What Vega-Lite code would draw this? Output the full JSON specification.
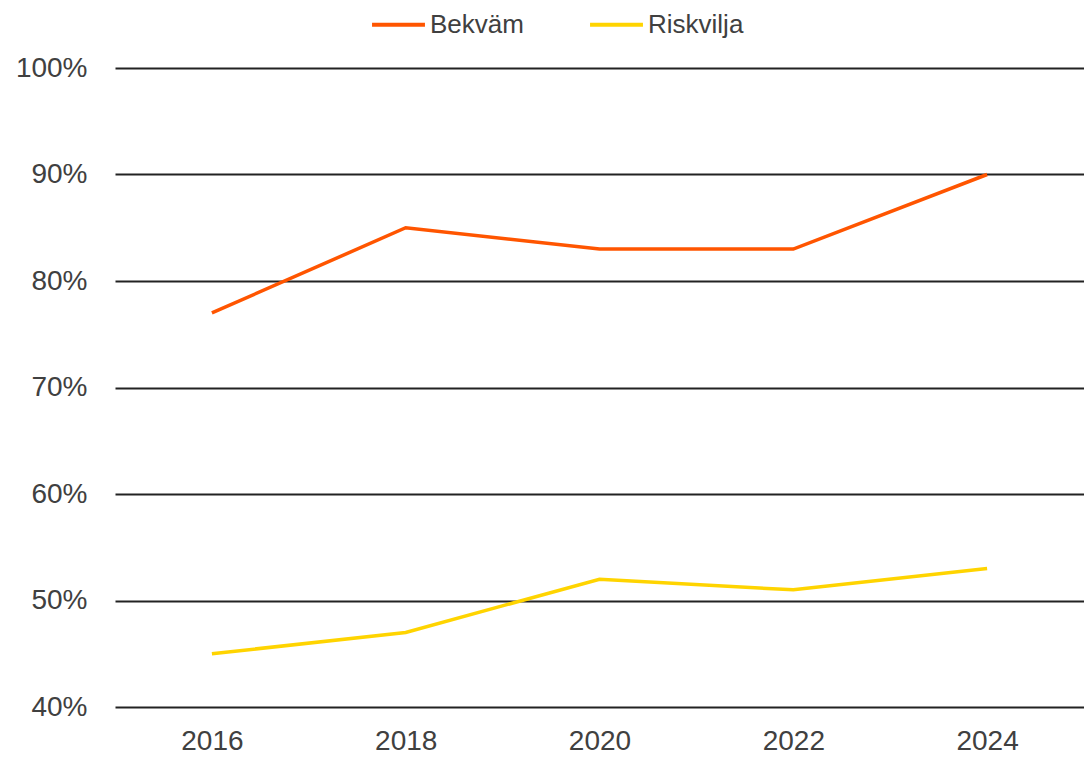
{
  "$schema": "https://vega.github.io/schema/vega-lite/v6.json",
  "width": 969,
  "height": 639,
  "autosize": {"type": "none"},
  "padding": {"left": 115, "top": 68, "right": 0, "bottom": 50},
  "background": "white",
  "config": {
    "view": {"stroke": null},
    "font": "Liberation Sans",
    "axis": {"labelFont": "Liberation Sans", "labelColor": "#404040"}
  },
  "data": {
    "values": [
      {"year": "2016", "series": "Bekväm", "value": 0.77},
      {"year": "2018", "series": "Bekväm", "value": 0.85},
      {"year": "2020", "series": "Bekväm", "value": 0.83},
      {"year": "2022", "series": "Bekväm", "value": 0.83},
      {"year": "2024", "series": "Bekväm", "value": 0.90},
      {"year": "2016", "series": "Riskvilja", "value": 0.45},
      {"year": "2018", "series": "Riskvilja", "value": 0.47},
      {"year": "2020", "series": "Riskvilja", "value": 0.52},
      {"year": "2022", "series": "Riskvilja", "value": 0.51},
      {"year": "2024", "series": "Riskvilja", "value": 0.53}
    ]
  },
  "mark": {"type": "line", "strokeWidth": 3.5},
  "encoding": {
    "x": {
      "field": "year",
      "type": "ordinal",
      "scale": {"type": "point", "padding": 0.5},
      "axis": {
        "title": null,
        "labelAngle": 0,
        "domain": false,
        "ticks": false,
        "grid": false,
        "labelFontSize": 28,
        "labelPadding": 20
      }
    },
    "y": {
      "field": "value",
      "type": "quantitative",
      "scale": {"domain": [0.4, 1.0], "nice": false, "zero": false},
      "axis": {
        "title": null,
        "format": ".0%",
        "values": [0.4, 0.5, 0.6, 0.7, 0.8, 0.9, 1.0],
        "domain": false,
        "ticks": false,
        "grid": true,
        "gridColor": "#222222",
        "gridWidth": 2,
        "labelFontSize": 28,
        "labelPadding": 28
      }
    },
    "color": {
      "field": "series",
      "type": "nominal",
      "scale": {"domain": ["Bekväm", "Riskvilja"], "range": ["#FF5500", "#FFD400"]},
      "legend": {
        "title": null,
        "orient": "none",
        "legendX": 255,
        "legendY": -72,
        "direction": "horizontal",
        "symbolType": "stroke",
        "symbolSize": 2800,
        "symbolStrokeWidth": 4,
        "labelFontSize": 26,
        "labelColor": "#404040",
        "labelFont": "Liberation Sans",
        "labelOffset": 3,
        "columnPadding": 58
      }
    }
  }
}
